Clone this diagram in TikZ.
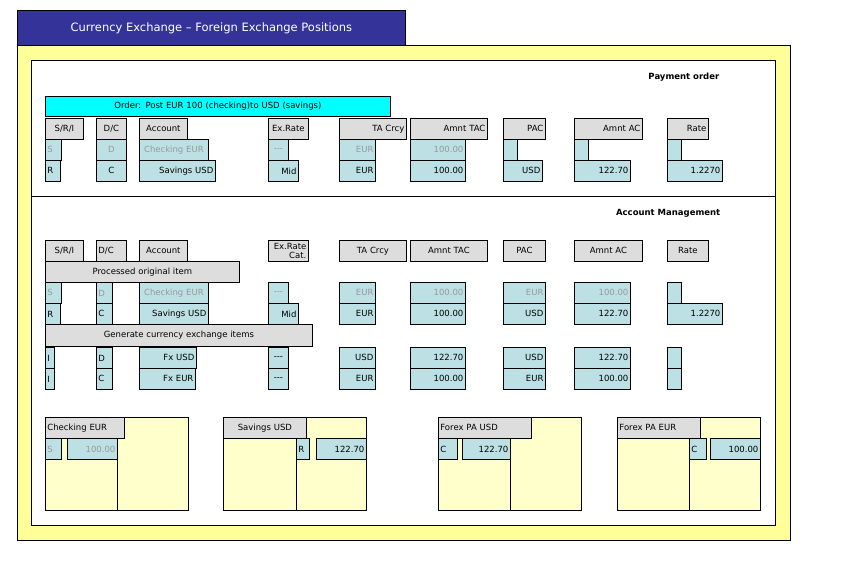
\documentclass[tikz,border=0pt]{standalone}
\usepackage{fontspec}
\setmainfont{DejaVu Sans}
\begin{document}
\newcounter{cellno}
\definecolor{hdgray}{HTML}{DDDDDD}
\definecolor{cellblue}{HTML}{BCE0E3}
\definecolor{graytxt}{HTML}{999999}
\definecolor{frameyel}{HTML}{FFFF99}
\definecolor{acctyel}{HTML}{FFFFCC}
\definecolor{titleblue}{HTML}{333399}
\definecolor{ordercyan}{HTML}{00FFFF}
\tikzset{
 hd/.style={fill=hdgray},
 vl/.style={fill=cellblue},
 gv/.style={fill=cellblue,text=graytxt},
}
\newcommand\dsh{{-}{-}{-}}
\newcommand\cell[7]{% style, align, x1,y1,x2,y2,text
 \stepcounter{cellno}%
 \pgfmathsetmacro\cw{#5-#3}\pgfmathsetmacro\ch{#6-#4}\pgfmathsetmacro\tw{max(#5-#3-4,1)}%
 \node[name=c\thecellno,draw,#1,anchor=north west,inner sep=0pt,minimum width=\cw pt,minimum height=\ch pt,text width=\tw pt,align=#2,font=\fontsize{8.5}{9}\selectfont] at (#3,#4) {#7};}
\begin{tikzpicture}[x=1pt,y=-1pt,line width=0.8pt]
\useasboundingbox (0,0) rectangle (850,567);
\node[name=frame,draw,fill=frameyel,anchor=north west,minimum width=773pt,minimum height=495pt,inner sep=0pt] at (17,45) {};
\node[name=title,draw,fill=titleblue,anchor=north west,minimum width=388pt,minimum height=35pt,inner sep=0pt,text=white,font=\fontsize{11.5}{13}\selectfont] at (17,10) {Currency Exchange -- Foreign Exchange Positions};
\node[name=inner,draw,fill=white,anchor=north west,minimum width=744pt,minimum height=465pt,inner sep=0pt] at (31,60) {};
\coordinate (dl) at (31,196); \coordinate (dr) at (775,196);
\draw (dl) -- (dr);
\node[name=po,anchor=east,font=\bfseries\fontsize{8.5}{9}\selectfont] at (723,77) {Payment order};
\node[name=am,anchor=east,font=\bfseries\fontsize{8.5}{9}\selectfont] at (724,213) {Account Management};
% Payment order
\cell{fill=ordercyan}{center}{45}{96}{390}{116}{Order: Post EUR 100 (checking)to USD (savings)}
\cell{hd}{center}{45}{118}{83}{139}{S/R/I}
\cell{hd}{center}{96}{118}{126}{139}{D/C}
\cell{hd}{center}{139}{118}{187}{139}{Account}
\cell{hd}{center}{268}{118}{308}{139}{Ex.Rate}
\cell{hd}{right}{339}{118}{406}{139}{TA Crcy}
\cell{hd}{right}{410}{118}{487}{139}{Amnt TAC}
\cell{hd}{right}{503}{118}{545}{139}{PAC}
\cell{hd}{right}{574}{118}{642}{139}{Amnt AC}
\cell{hd}{right}{667}{118}{708}{139}{Rate}
\cell{gv}{left}{45}{139}{61}{160}{S}
\cell{gv}{center}{96}{139}{126}{160}{D}
\cell{gv}{center}{139}{139}{208}{160}{Checking EUR}
\cell{gv}{center}{268}{139}{288}{160}{\dsh}
\cell{gv}{right}{339}{139}{375}{160}{EUR}
\cell{gv}{right}{410}{139}{465}{160}{100.00}
\cell{vl}{right}{503}{139}{517}{160}{}
\cell{vl}{right}{574}{139}{588}{160}{}
\cell{vl}{right}{667}{139}{681}{160}{}
\cell{vl}{left}{45}{160}{60}{181}{R}
\cell{vl}{center}{96}{160}{126}{181}{C}
\cell{vl}{right}{139}{160}{215}{181}{Savings USD}
\cell{vl}{right}{268}{160}{298}{181}{Mid}
\cell{vl}{right}{339}{160}{375}{181}{EUR}
\cell{vl}{right}{410}{160}{465}{181}{100.00}
\cell{vl}{right}{503}{160}{542}{181}{USD}
\cell{vl}{right}{574}{160}{630}{181}{122.70}
\cell{vl}{right}{667}{160}{722}{181}{1.2270}
% Account management
\cell{hd}{center}{45}{240}{83}{261}{S/R/I}
\cell{hd}{left}{96}{240}{126}{261}{D/C}
\cell{hd}{center}{139}{240}{187}{261}{Account}
\cell{hd}{right}{268}{240}{308}{261}{Ex.Rate\\Cat.}
\cell{hd}{center}{339}{240}{406}{261}{TA Crcy}
\cell{hd}{center}{410}{240}{487}{261}{Amnt TAC}
\cell{hd}{center}{503}{240}{545}{261}{PAC}
\cell{hd}{center}{574}{240}{642}{261}{Amnt AC}
\cell{hd}{center}{667}{240}{708}{261}{Rate}
\cell{hd}{center}{45}{261}{239}{282}{Processed original item}
\cell{gv}{left}{45}{282}{61}{303}{S}
\cell{gv}{left}{96}{282}{112}{303}{D}
\cell{gv}{center}{139}{282}{208}{303}{Checking EUR}
\cell{gv}{center}{268}{282}{288}{303}{\dsh}
\cell{gv}{right}{339}{282}{375}{303}{EUR}
\cell{gv}{right}{410}{282}{465}{303}{100.00}
\cell{gv}{right}{503}{282}{545}{303}{EUR}
\cell{gv}{right}{574}{282}{630}{303}{100.00}
\cell{vl}{right}{667}{282}{681}{303}{}
\cell{vl}{left}{45}{303}{60}{324}{R}
\cell{vl}{left}{96}{303}{112}{324}{C}
\cell{vl}{right}{139}{303}{208}{324}{Savings USD}
\cell{vl}{right}{268}{303}{298}{324}{Mid}
\cell{vl}{right}{339}{303}{375}{324}{EUR}
\cell{vl}{right}{410}{303}{465}{324}{100.00}
\cell{vl}{right}{503}{303}{545}{324}{USD}
\cell{vl}{right}{574}{303}{630}{324}{122.70}
\cell{vl}{right}{667}{303}{722}{324}{1.2270}
\cell{hd}{center}{45}{324}{312}{346}{Generate currency exchange items}
\cell{vl}{left}{45}{347}{54}{368}{I}
\cell{vl}{left}{96}{347}{112}{368}{D}
\cell{vl}{right}{139}{347}{196}{368}{Fx USD}
\cell{vl}{center}{268}{347}{288}{368}{\dsh}
\cell{vl}{right}{339}{347}{375}{368}{USD}
\cell{vl}{right}{410}{347}{465}{368}{122.70}
\cell{vl}{right}{503}{347}{545}{368}{USD}
\cell{vl}{right}{574}{347}{630}{368}{122.70}
\cell{vl}{right}{667}{347}{681}{368}{}
\cell{vl}{left}{45}{368}{54}{389}{I}
\cell{vl}{left}{96}{368}{112}{389}{C}
\cell{vl}{right}{139}{368}{195}{389}{Fx EUR}
\cell{vl}{center}{268}{368}{288}{389}{\dsh}
\cell{vl}{right}{339}{368}{375}{389}{EUR}
\cell{vl}{right}{410}{368}{465}{389}{100.00}
\cell{vl}{right}{503}{368}{545}{389}{EUR}
\cell{vl}{right}{574}{368}{630}{389}{100.00}
\cell{vl}{right}{667}{368}{681}{389}{}
% Accounts
\cell{fill=acctyel}{left}{45}{417}{117}{510}{}
\cell{fill=acctyel}{left}{117}{417}{188}{510}{}
\cell{hd}{left}{45}{417}{124}{438}{Checking EUR}
\cell{gv}{left}{45}{438}{61}{459}{S}
\cell{gv}{right}{67}{438}{117}{459}{100.00}
\cell{fill=acctyel}{left}{223}{417}{296}{510}{}
\cell{fill=acctyel}{left}{296}{417}{366}{510}{}
\cell{hd}{center}{223}{417}{306}{438}{Savings USD}
\cell{vl}{left}{296}{438}{309}{459}{R}
\cell{vl}{right}{316}{438}{366}{459}{122.70}
\cell{fill=acctyel}{left}{438}{417}{510}{510}{}
\cell{fill=acctyel}{left}{510}{417}{581}{510}{}
\cell{hd}{left}{438}{417}{531}{438}{Forex PA USD}
\cell{vl}{left}{438}{438}{457}{459}{C}
\cell{vl}{right}{462}{438}{510}{459}{122.70}
\cell{fill=acctyel}{left}{617}{417}{689}{510}{}
\cell{fill=acctyel}{left}{689}{417}{760}{510}{}
\cell{hd}{left}{617}{417}{700}{438}{Forex PA EUR}
\cell{vl}{left}{689}{438}{706}{459}{C}
\cell{vl}{right}{710}{438}{760}{459}{100.00}
\end{tikzpicture}
\end{document}
